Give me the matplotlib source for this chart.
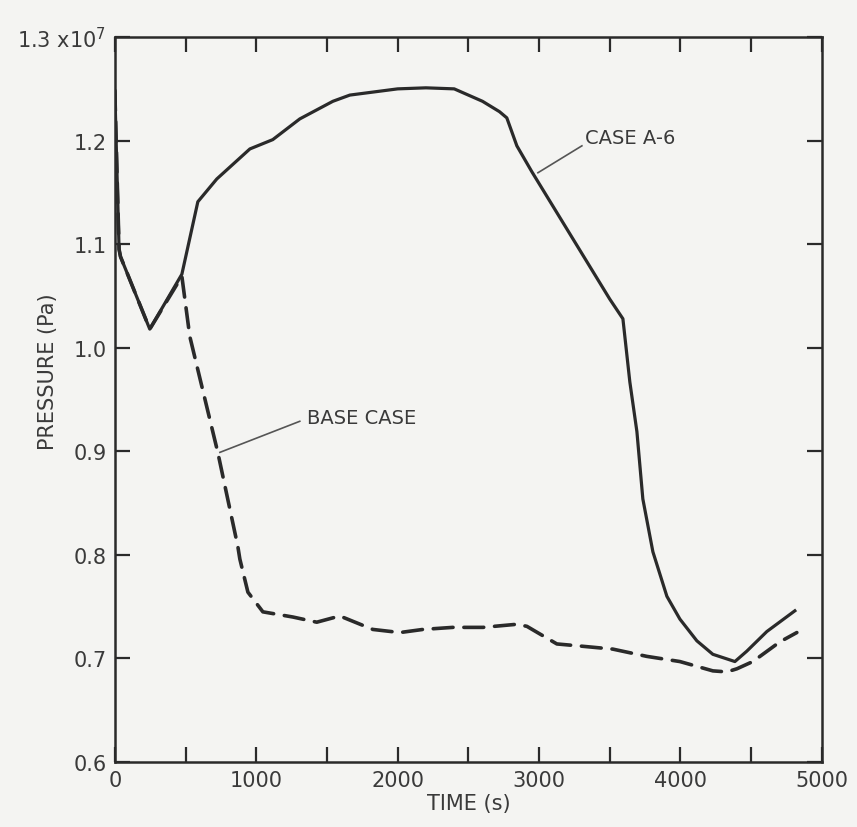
import matplotlib.pyplot as plt
import numpy as np

# time (s) and pressure (x1e7 Pa)
case_a6_t = [0, 15, 30, 40, 247, 474, 587, 721, 955, 1117, 1308, 1542, 1662, 2000, 2200,
             2400, 2600, 2720, 2772, 2843, 2949, 3500, 3593, 3642, 3692, 3734, 3805, 3904,
             3996, 4116, 4229, 4385, 4469, 4611, 4809]
case_a6_p = [1.248, 1.17, 1.095, 1.088, 1.018, 1.071, 1.141, 1.163, 1.192, 1.201, 1.221,
             1.238, 1.244, 1.250, 1.251, 1.250, 1.238, 1.228, 1.222, 1.195, 1.170, 1.047,
             1.028, 0.967, 0.919, 0.854, 0.803, 0.760, 0.738, 0.717, 0.704, 0.697, 0.707,
             0.726, 0.746]

base_t = [0, 15, 30, 40, 247, 474, 530, 728, 870, 884, 941, 1047, 1259, 1428, 1591, 1825,
          2016, 2178, 2390, 2603, 2843, 2914, 3126, 3289, 3522, 3762, 3996, 4229, 4328,
          4399, 4512, 4703, 4823]
base_p = [1.248, 1.17, 1.095, 1.088, 1.018, 1.069, 1.011, 0.899, 0.808, 0.796, 0.764, 0.745,
          0.740, 0.735, 0.741, 0.728, 0.725, 0.728, 0.730, 0.730, 0.733, 0.731, 0.714, 0.712,
          0.709, 0.702, 0.697, 0.688, 0.687, 0.690, 0.697, 0.716, 0.725]

y_ticks = [0.6, 0.7, 0.8, 0.9, 1.0, 1.1, 1.2, 1.3]
y_labels = ['0.6', '0.7', '0.8', '0.9', '1.0', '1.1', '1.2', r'1.3 x10$^{7}$']

ink = '#2a2a2a'
bg = '#f4f4f2'

fig = plt.figure(figsize=(8.57, 8.28), dpi=100, facecolor=bg)
ax = fig.add_axes([0.134, 0.0785, 0.825, 0.8755], facecolor=bg)

ax.plot(case_a6_t, case_a6_p, color=ink, lw=2.3, solid_joinstyle='round')
ax.plot(base_t, base_p, color=ink, lw=2.6, dashes=(5.5, 3), dash_capstyle='round')

ax.set_xlim(0, 5000)
ax.set_ylim(0.6, 1.3)
ax.set_xticks(np.arange(0, 5001, 1000))
ax.set_xticks(np.arange(500, 5000, 1000), minor=True)
ax.set_yticks(y_ticks)
ax.set_yticklabels(y_labels)

for s in ax.spines.values():
    s.set_linewidth(1.8)
    s.set_color(ink)
ax.tick_params(which='both', direction='in', length=11, width=1.6, color=ink,
               top=True, right=True, labelsize=15, labelcolor='#3a3a3a', pad=6)

ax.set_xlabel('TIME (s)', fontsize=15, color='#3a3a3a', labelpad=2)
ax.set_ylabel('PRESSURE (Pa)', fontsize=15, color='#3a3a3a')
ax.yaxis.set_label_coords(-0.08, 0.54)

# curve labels with leader lines
ax.plot([3303, 2992], [1.195, 1.169], color='#555555', lw=1.2)
ax.text(3324, 1.203, 'CASE A-6', fontsize=14, color='#3a3a3a', va='center', ha='left')
ax.plot([1308, 743], [0.929, 0.899], color='#555555', lw=1.2)
ax.text(1358, 0.933, 'BASE CASE', fontsize=14, color='#3a3a3a', va='center', ha='left')

fig.savefig('out.png', dpi=100, facecolor=bg)
